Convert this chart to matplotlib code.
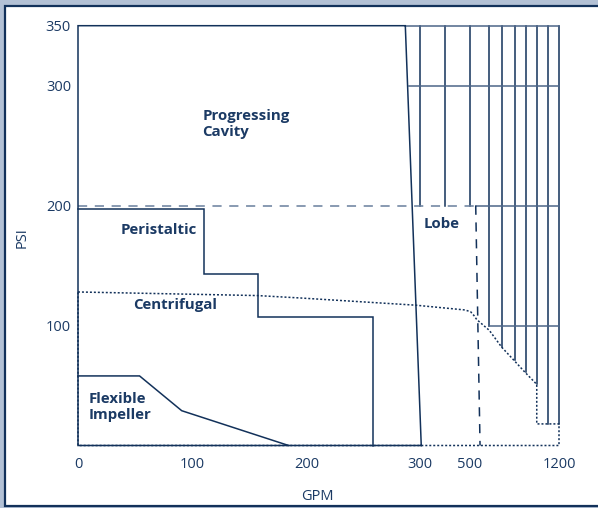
import matplotlib.pyplot as plt
import numpy as np
from matplotlib.patches import Rectangle

plt.rcParams['font.family'] = ['Open Sans', 'DejaVu Sans']

NAVY = '#12315a'
GRID = '#4d6688'
DASH = '#687e9c'
TEXT = '#1b3a64'

# broken GPM axis: linear to 300, then compressed
gpm_knots = [0, 100, 200, 300, 500, 1200]
pos_knots = [0, 114, 229, 342, 392, 481]

x_ticks = [0, 100, 200, 300, 500, 1200]
y_ticks = [100, 200, 300, 350]

# pump envelopes (GPM, PSI)
pc_gpm = [305, 0, 0, 287, 305]
pc_psi = [0, 0, 350, 350, 0]

peri_gpm = [0, 110, 110, 157, 157, 258, 258]
peri_psi = [197, 197, 143, 143, 107, 107, 0]

flex_gpm = [0, 54, 91, 184]
flex_psi = [58, 58, 29, 0]

cent_gpm = [0, 157, 194, 296, 480, 505, 530, 553, 652, 749, 846, 933, 1025, 1025, 1200, 1200, 0, 0]
cent_psi = [128, 125, 123, 117, 113, 111.5, 108.5, 105, 96, 82, 71, 61, 51, 18, 18, 0, 0, 128]

lobe_dash_gpm = [545, 579]
lobe_dash_psi = [200, 0]

# lobe hatch verticals: GPM position and lower end (PSI)
hatch_gpm = [300, 400, 500, 650, 750, 850, 940, 1025, 1110, 1200]
hatch_low = [200, 200, 200, 100, 82, 71, 61, 51, 18, 18]

labels = ["Progressing\nCavity", "Peristaltic", "Centrifugal", "Lobe", "Flexible\nImpeller"]
label_gpm = [109, 37, 48, 316, 9]
label_psi = [268, 180, 117, 185, 32]


def fwd(x):
    return np.interp(x, gpm_knots, pos_knots)


def inv(p):
    return np.interp(p, pos_knots, gpm_knots)


fig = plt.figure(figsize=(5.98, 5.08), dpi=100)
fig.patches.append(Rectangle((0, 0), 1, 1, transform=fig.transFigure,
                             facecolor='#b3c1d5', edgecolor='none', zorder=-3))
fig.patches.append(Rectangle((5 / 598, 2 / 508), 1.0, 500 / 508, transform=fig.transFigure,
                             facecolor='white', edgecolor=NAVY, linewidth=1.6, zorder=-2))

ax = fig.add_axes([78 / 598, 62.5 / 508, 481 / 598, 419.8 / 508])
ax.set_xscale('function', functions=(fwd, inv))
ax.set_xlim(0, 1200)
ax.set_ylim(0, 350)
ax.patch.set_alpha(0)
for s in ax.spines.values():
    s.set_visible(False)

kw = dict(color=NAVY, lw=1.1, clip_on=False, solid_joinstyle='miter')

# lobe hatch grid
for g, low in zip(hatch_gpm, hatch_low):
    ax.plot([g, g], [350, low], **kw)
ax.plot([287, 1200], [350, 350], color=GRID, lw=1.1, clip_on=False)
ax.plot([290, 1200], [300, 300], color=GRID, lw=1.1, clip_on=False)
ax.plot([545, 1200], [200, 200], color=GRID, lw=1.1, clip_on=False)
ax.plot([650, 1200], [100, 100], color=GRID, lw=1.1, clip_on=False)

# dashed 200 psi line and lobe limit
ax.plot([0, 545], [200, 200], color=DASH, lw=1.1, ls=(0, (6, 5)), clip_on=False)
ax.plot(lobe_dash_gpm, lobe_dash_psi, color=NAVY, lw=1.1, ls=(0, (6, 5)), clip_on=False)

ax.plot(cent_gpm, cent_psi, color=NAVY, lw=1.1, ls=(0, (1.3, 1.3)), clip_on=False)
ax.plot(pc_gpm, pc_psi, **kw)
ax.plot(peri_gpm, peri_psi, **kw)
ax.plot(flex_gpm, flex_psi, **kw)

for t, gx, py in zip(labels, label_gpm, label_psi):
    ax.text(gx, py, t, color=TEXT, fontsize=10.8, fontweight='bold', ha='left', va='center',
            linespacing=1.25)

ax.set_xticks(x_ticks)
ax.set_xticklabels([str(v) for v in x_ticks])
ax.set_yticks(y_ticks)
ax.set_yticklabels([str(v) for v in y_ticks])
ax.tick_params(length=0, labelsize=10.5, labelcolor=TEXT, pad=5)
ax.tick_params(axis='x', pad=8)
ax.set_xlabel('GPM', fontsize=10.5, color=TEXT)
ax.set_ylabel('PSI', fontsize=10.5, color=TEXT)
ax.xaxis.set_label_coords((317 - 78) / 481, -(489 - 445.5) / 419.8)
ax.yaxis.set_label_coords((30 - 78) / 481, (445.5 - 238) / 419.8)

fig.savefig('out.png', dpi=100)
